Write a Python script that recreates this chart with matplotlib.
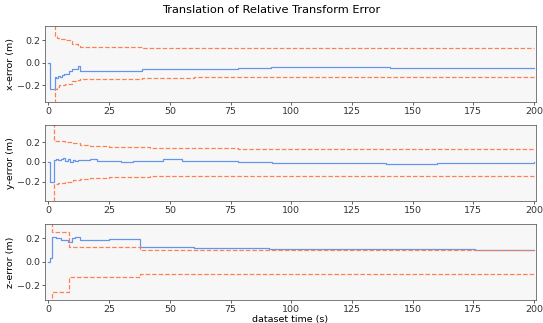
import numpy as np
import matplotlib
matplotlib.use("Agg")
import matplotlib.pyplot as plt

# x-error
tx_est = [0, 0.7, 2.5, 3.2, 4.0, 4.6, 5.5, 6.5, 7.5, 8.6, 9.6, 11.0, 12.3, 13.0, 25, 38.4, 78, 91.6, 140.6, 164, 200]
x_est = [0.0, -0.236, -0.128, -0.135, -0.118, -0.125, -0.108, -0.1, -0.095, -0.07, -0.057, -0.05, -0.03, -0.072, -0.075, -0.058, -0.048, -0.04, -0.043, -0.045, -0.045]
tx_bnd = [2.5, 2.6, 3.5, 4.5, 6.7, 9.6, 12.3, 13.0, 20, 38.4, 60, 200]
x_up = [1.0, 0.236, 0.225, 0.21, 0.2, 0.165, 0.15, 0.145, 0.14, 0.135, 0.133, 0.133]
x_lo = [-1.0, -0.23, -0.215, -0.2, -0.185, -0.16, -0.15, -0.145, -0.14, -0.13, -0.128, -0.128]

# y-error
ty_est = [0, 0.7, 2.1, 3.0, 4.0, 5.0, 6.0, 7.0, 8.0, 9.0, 10.0, 11.0, 12.0, 14.0, 17.0, 20, 25, 30, 35, 40, 47, 55, 60, 78, 92, 139, 160, 200]
y_est = [0.0, -0.2, 0.02, 0.03, 0.02, 0.035, 0.04, 0.01, 0.03, 0.0, 0.025, 0.005, 0.02, 0.02, 0.03, 0.015, 0.008, 0.0, 0.005, 0.015, 0.03, 0.01, 0.005, -0.005, -0.014, -0.017, -0.01, -0.005]
ty_bnd = [2.1, 2.3, 4.0, 7.0, 10.0, 13.0, 17.0, 25, 42, 78, 200]
y_up = [1.0, 0.218, 0.21, 0.2, 0.19, 0.175, 0.16, 0.15, 0.144, 0.137, 0.137]
y_lo = [-1.0, -0.22, -0.21, -0.2, -0.185, -0.17, -0.16, -0.152, -0.148, -0.14, -0.14]

# z-error
tz_est = [0, 0.5, 1.4, 3.0, 5.0, 8.2, 9.5, 11.0, 13.0, 25, 37.5, 60, 77.5, 91, 175.6, 200]
z_est = [0.0, 0.03, 0.21, 0.2, 0.19, 0.17, 0.2, 0.21, 0.19, 0.192, 0.127, 0.122, 0.115, 0.11, 0.105, 0.105]
tz_bnd = [1.4, 1.5, 8.6, 37.5, 200]
z_up = [1.0, 0.258, 0.127, 0.104, 0.104]
z_lo = [-1.0, -0.253, -0.13, -0.105, -0.105]

ylabels = ['x-error (m)', 'y-error (m)', 'z-error (m)']
ylims = [(-0.35, 0.33), (-0.4, 0.38), (-0.325, 0.325)]

series = [
    (tx_est, x_est, tx_bnd, x_up, x_lo),
    (ty_est, y_est, ty_bnd, y_up, y_lo),
    (tz_est, z_est, tz_bnd, z_up, z_lo),
]

dpi = 68
fig, axes = plt.subplots(3, 1, figsize=(543 / dpi, 323 / dpi), dpi=dpi)
fig.subplots_adjust(left=0.083, right=0.987, top=0.92, bottom=0.071, hspace=0.295)

for ax, (t, e, tb, up, lo), lab, yl in zip(axes, series, ylabels, ylims):
    ax.set_facecolor('#f7f7f7')
    for s in ax.spines.values():
        s.set_color('#555555')
    ax.plot(t, e, color='cornflowerblue', lw=1.3, drawstyle='steps-post')
    ax.plot(tb, up, color='coral', lw=1.3, linestyle='--', drawstyle='steps-post')
    ax.plot(tb, lo, color='coral', lw=1.3, linestyle='--', drawstyle='steps-post')
    ax.set_ylabel(lab, labelpad=3)
    ax.set_xlim(-1.4, 200.8)
    ax.set_ylim(*yl)
    ax.set_xticks(np.arange(0, 201, 25))
    ax.set_yticks([-0.2, 0.0, 0.2])
    ax.tick_params(length=3, pad=2, colors='#333333')

axes[2].set_xlabel('dataset time (s)', labelpad=1)
fig.suptitle('Translation of Relative Transform Error', y=0.985)

fig.savefig('out.png', dpi=dpi)
